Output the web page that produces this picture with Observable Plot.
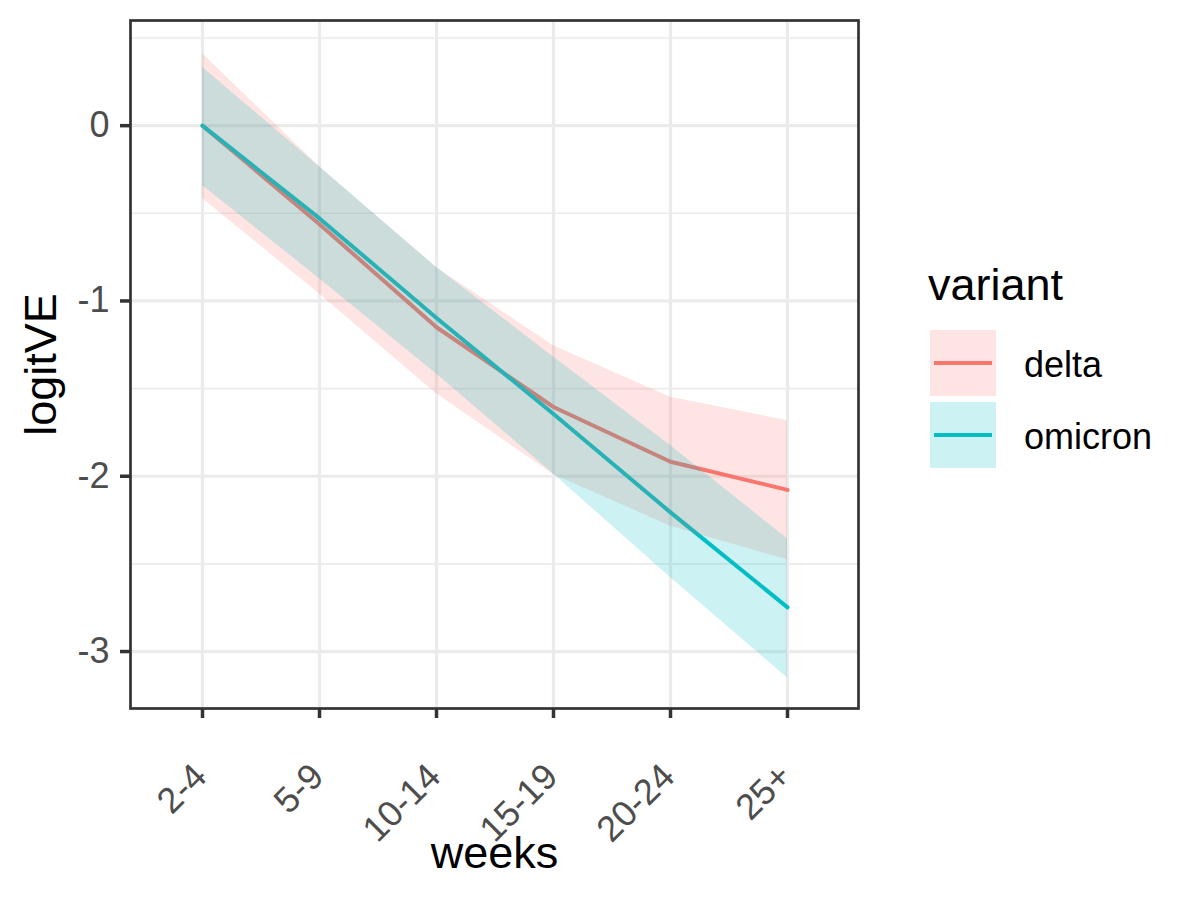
<!DOCTYPE html>
<html>
<head>
<meta charset="utf-8">
<script src="https://cdn.jsdelivr.net/npm/d3@7"></script>
<script src="https://cdn.jsdelivr.net/npm/@observablehq/plot@0.6"></script>
<style>
  html, body { margin: 0; padding: 0; background: #ffffff; }
  #wrap { position: relative; width: 1200px; height: 900px; overflow: hidden; }
  #legend { position: absolute; left: 900px; top: 240px; }
</style>
</head>
<body>
<div id="wrap"><div id="chart"></div><div id="legend"></div></div>
<script>
// ---- data ----
const weeks = ["2-4", "5-9", "10-14", "15-19", "20-24", "25+"];
const variants = ["delta", "omicron"];
const deltaEst = [0, -0.562, -1.15, -1.605, -1.917, -2.078];
const deltaLo  = [-0.415, -0.96, -1.53, -1.99, -2.285, -2.477];
const deltaHi  = [0.41, -0.235, -0.81, -1.255, -1.55, -1.683];
const omicronEst = [0, -0.529, -1.097, -1.645, -2.206, -2.748];
const omicronLo  = [-0.342, -0.873, -1.417, -1.987, -2.577, -3.151];
const omicronHi  = [0.333, -0.235, -0.808, -1.32, -1.825, -2.357];
const yMajor = [0, -1, -2, -3];
const yMinor = [0.5, -0.5, -1.5, -2.5];
const colors = ["#F8766D", "#00BFC4"];

const rows = [];
weeks.forEach((w, i) => rows.push({week: w, variant: "delta", est: deltaEst[i], lo: deltaLo[i], hi: deltaHi[i]}));
weeks.forEach((w, i) => rows.push({week: w, variant: "omicron", est: omicronEst[i], lo: omicronLo[i], hi: omicronHi[i]}));

const font = "'Liberation Sans', Arial, Helvetica, sans-serif";
const gridColor = "#EBEBEB";
const textGrey = "#4D4D4D";

const chart = Plot.plot({
  width: 1200,
  height: 900,
  marginLeft: 130,
  marginRight: 342,
  marginTop: 20,
  marginBottom: 192,
  style: {fontFamily: font, background: "#ffffff", overflow: "visible"},
  x: {type: "point", domain: weeks, padding: 0.6, axis: null},
  y: {domain: [-3.325, 0.6], axis: null},
  color: {domain: variants, range: colors},
  marks: [
    Plot.gridY(yMinor, {stroke: gridColor, strokeOpacity: 1, strokeWidth: 1.6}),
    Plot.gridY(yMajor, {stroke: gridColor, strokeOpacity: 1, strokeWidth: 3.2}),
    Plot.gridX(weeks, {stroke: gridColor, strokeOpacity: 1, strokeWidth: 3.2}),
    Plot.line(rows, {x: "week", y: "est", stroke: "variant", strokeWidth: 4}),
    Plot.areaY(rows, {x: "week", y1: "lo", y2: "hi", fill: "variant", fillOpacity: 0.2}),
    Plot.frame({stroke: "#333333", strokeWidth: 2.7}),
    Plot.axisX(weeks, {tickSize: 10, strokeWidth: 3.5, stroke: "#333333", tickFormat: () => "", label: null}),
    Plot.axisY(yMajor, {tickSize: 10, strokeWidth: 3.5, stroke: "#333333", tickFormat: () => "", label: null}),
    Plot.text(weeks, {x: d => d, text: d => d, frameAnchor: "bottom", dy: 62, dx: -2, rotate: -45,
      textAnchor: "end", lineAnchor: "middle", fontSize: 36, fill: textGrey}),
    Plot.text(yMajor, {y: d => d, text: d => String(d), frameAnchor: "left", dx: -21,
      textAnchor: "end", lineAnchor: "middle", fontSize: 36, fill: textGrey}),
    Plot.text(["weeks"], {frameAnchor: "bottom", dy: 145, textAnchor: "middle", lineAnchor: "middle", fontSize: 45, fill: "#000000"}),
    Plot.text(["logitVE"], {frameAnchor: "left", dx: -89.4, rotate: -90, textAnchor: "middle", lineAnchor: "middle", fontSize: 45, fill: "#000000"})
  ]
});
document.getElementById("chart").appendChild(chart);

// ---- legend (ggplot style) ----
const lg = d3.select("#legend").append("svg")
  .attr("width", 300).attr("height", 260)
  .style("font-family", font);
lg.append("text").attr("x", 28).attr("y", 60).attr("font-size", 45).attr("fill", "#000").text("variant");
variants.forEach((v, i) => {
  const top = 90 + i * 72;
  lg.append("rect").attr("x", 30).attr("y", top).attr("width", 66).attr("height", 66)
    .attr("fill", colors[i]).attr("fill-opacity", 0.2);
  lg.append("line").attr("x1", 34).attr("x2", 92).attr("y1", top + 33).attr("y2", top + 33)
    .attr("stroke", colors[i]).attr("stroke-width", 4);
  lg.append("text").attr("x", 124).attr("y", top + 33).attr("dy", "0.4em")
    .attr("font-size", 36).attr("fill", "#000").text(v);
});
</script>
</body>
</html>
